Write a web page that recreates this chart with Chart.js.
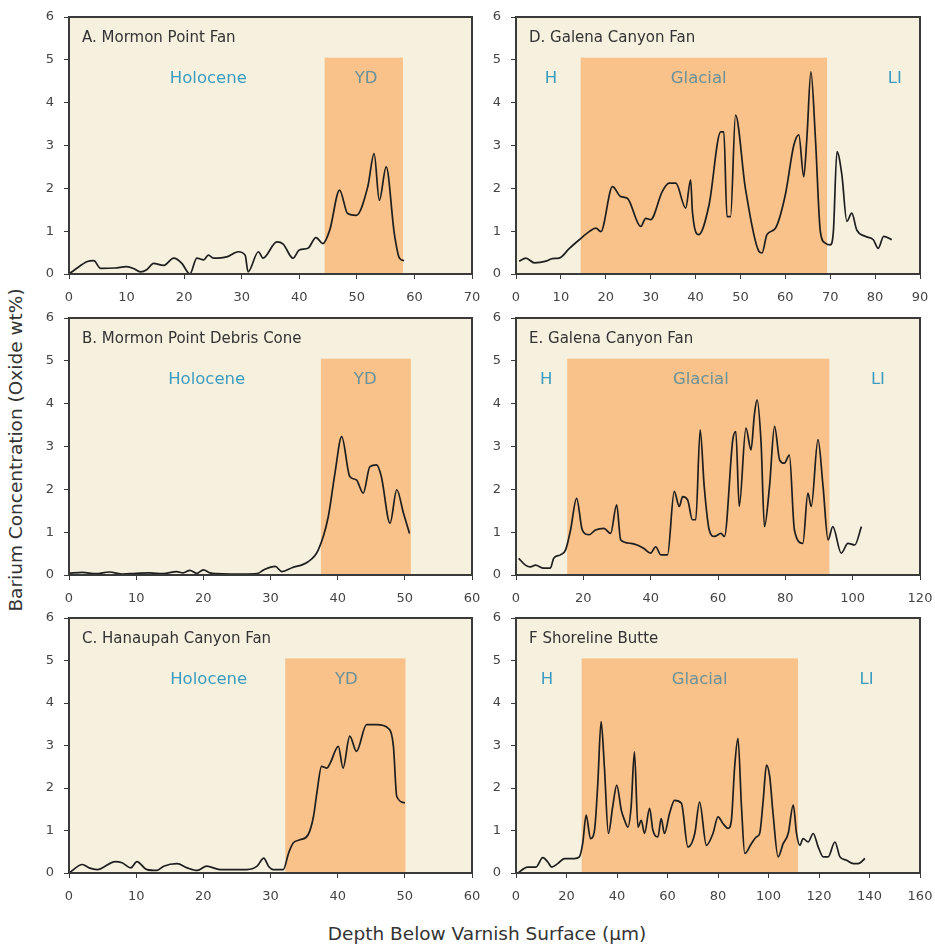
<!DOCTYPE html>
<html>
<head>
<meta charset="utf-8">
<script src="https://cdn.jsdelivr.net/npm/chart.js@4"></script>
<style>
  body { margin: 0; background: #fff; }
  #page { position: relative; width: 935px; height: 944px; overflow: hidden; }
  .panel { position: absolute; }
  .axis-title { position: absolute; font-family: 'DejaVu Sans', sans-serif; font-size: 18.5px; color: #333; white-space: nowrap; }
  #yTitle { left: 15px; top: 450px; transform: translate(-50%, -50%) rotate(-90deg); }
  #xTitle { left: 487px; top: 933px; transform: translate(-50%, -50%); }
</style>
</head>
<body>
<div id="page">
  <div class="axis-title" id="yTitle">Barium Concentration (Oxide wt%)</div>
  <div class="axis-title" id="xTitle">Depth Below Varnish Surface (µm)</div>
</div>
<script>
'use strict';

// --- Data (depth in µm, BaO wt%) ---
const depthA = [0, 1, 3.2, 4.3, 5.5, 8, 10, 11.2, 12.4, 13.5,
  14.7, 16.4, 18.2, 19.6, 21, 22.2, 23.4, 24.2, 25.1, 27.4,
  29.4, 30.6, 31.1, 32.9, 33.7, 36.1, 37.2, 38.9, 40, 41.5,
  42.9, 44.1, 45.3, 47, 48.4, 49.9, 51.9, 53, 53.9, 55.1,
  56.5, 57.4, 58.2];
const bariumA = [0, 0.1, 0.29, 0.31, 0.13, 0.14, 0.17, 0.13, 0.05, 0.1,
  0.25, 0.2, 0.37, 0.25, 0, 0.37, 0.33, 0.44, 0.37, 0.4,
  0.52, 0.44, 0.05, 0.52, 0.37, 0.75, 0.7, 0.37, 0.56, 0.6,
  0.85, 0.71, 1.03, 1.96, 1.41, 1.37, 2.04, 2.81, 1.72, 2.5,
  0.95, 0.37, 0.31];

const depthB = [0, 2, 4, 6, 8, 10, 12, 14, 16, 17,
  18, 19, 20, 21, 22, 24, 26, 28, 29, 30.7,
  31.7, 33.2, 35.6, 37.1, 38.6, 39.6, 40.6, 41.8, 42.8, 43.8,
  44.8, 45.8, 46.5, 47.8, 48.8, 49.8, 50.7];
const bariumB = [0.04, 0.06, 0.03, 0.07, 0.02, 0.04, 0.05, 0.03, 0.08, 0.05,
  0.11, 0.04, 0.12, 0.05, 0.03, 0.02, 0.02, 0.03, 0.12, 0.2,
  0.08, 0.17, 0.31, 0.58, 1.36, 2.38, 3.23, 2.3, 2.22, 1.91,
  2.53, 2.57, 2.3, 1.21, 1.99, 1.44, 0.97];

const depthC = [0, 2, 3, 4.2, 6.9, 7.9, 9.2, 10.1, 11.6, 13.1,
  14.1, 16.1, 17.6, 19.1, 20.5, 22.5, 26.5, 28, 29, 29.7,
  30.4, 31.9, 32.7, 33.4, 34.4, 35.6, 36.4, 36.9, 37.6, 38.4,
  38.9, 40.1, 40.8, 41.8, 42.8, 44.3, 45.8, 47.5, 48.3, 48.8,
  50];
const bariumC = [0, 0.2, 0.12, 0.08, 0.27, 0.24, 0.12, 0.27, 0.08, 0.06,
  0.16, 0.22, 0.12, 0.06, 0.16, 0.08, 0.08, 0.16, 0.35, 0.16,
  0.08, 0.08, 0.47, 0.71, 0.78, 0.9, 1.33, 1.88, 2.51, 2.47,
  2.59, 2.98, 2.47, 3.22, 2.86, 3.49, 3.49, 3.41, 2.98, 1.8,
  1.65];

const depthD = [0.7, 2.2, 4.1, 6.7, 8.1, 9.6, 11.9, 14.1, 16.3, 17.8,
  18.9, 21.5, 23.3, 24.8, 27.8, 28.9, 30, 32.6, 34.1, 35.6,
  37.8, 38.9, 39.3, 40.7, 43, 45.6, 46.3, 47, 47.8, 48.9,
  51.1, 54.1, 54.8, 55.9, 57.8, 60, 61.9, 63, 64.1, 64.8,
  65.7, 66.7, 67.8, 68.9, 70, 70.7, 71.5, 72.6, 73.7, 74.8,
  75.9, 77.8, 79.6, 80.7, 81.9, 83.7];
const bariumD = [0.3, 0.37, 0.26, 0.3, 0.36, 0.37, 0.6, 0.8, 0.99, 1.07,
  0.99, 2.04, 1.81, 1.77, 1.11, 1.3, 1.27, 1.93, 2.12, 2.12,
  1.54, 2.2, 1.46, 0.92, 1.61, 3.32, 3.32, 1.34, 1.34, 3.71,
  2.0, 0.53, 0.49, 0.92, 1.07, 1.85, 3.01, 3.25, 2.27, 3.17,
  4.72, 3.17, 0.99, 0.72, 0.68, 0.99, 2.86, 2.31, 1.23, 1.42,
  1.03, 0.88, 0.8, 0.6, 0.88, 0.8];

const depthE = [0.8, 2.8, 4.3, 5.8, 8.2, 10.2, 11.2, 13.2, 14.7, 16.2,
  18, 19.7, 21.7, 23.6, 26.1, 28.1, 29.9, 31.1, 34.1, 36,
  38, 40, 41.5, 43, 45, 47, 48.5, 49.5, 51, 52.4,
  53.4, 54.7, 55.9, 57.4, 58.9, 60.9, 61.9, 64.4, 65.3, 66.3,
  68.3, 69.8, 70.8, 71.6, 72.8, 73.8, 75.3, 76.8, 78.3, 79.7,
  81.2, 82.7, 85.2, 86.7, 87.7, 89.7, 91.2, 92.7, 94.1, 96.6,
  98.6, 100.6, 102.6];
const bariumE = [0.39, 0.23, 0.19, 0.23, 0.16, 0.16, 0.39, 0.47, 0.58, 1.05,
  1.79, 1.05, 0.94, 1.05, 1.09, 0.97, 1.64, 0.82, 0.74, 0.7,
  0.62, 0.51, 0.66, 0.47, 0.47, 1.95, 1.6, 1.83, 1.75, 1.29,
  1.29, 3.39, 2.07, 1.05, 0.9, 0.97, 0.9, 3.16, 3.35, 1.6,
  3.43, 2.92, 3.74, 4.09, 3.08, 1.13, 2.07, 3.47, 2.69, 2.61,
  2.8, 1.05, 0.74, 1.91, 1.6, 3.16, 2.07, 0.82, 1.13, 0.51,
  0.74, 0.7, 1.13];

const depthF = [0.7, 4.6, 7.9, 10.6, 12.6, 14.1, 16.5, 19.2, 23.1, 25.1,
  26.4, 27.8, 29.5, 31.1, 32.4, 33.7, 35, 36.6, 38.3, 39.9,
  41.7, 43, 44.3, 45.6, 46.9, 48.3, 49.6, 50.9, 52.9, 54.2,
  56.2, 57.5, 58.8, 60.8, 62.8, 65.5, 68.1, 70.8, 72.7, 75.4,
  78, 80, 82, 84, 85.3, 86.6, 87.9, 89.3, 90.6, 93.2,
  95.2, 96.5, 97.9, 99.2, 100.5, 101.8, 103.8, 105.8, 107.8, 109.8,
  111.1, 112.4, 113.7, 115.7, 117.7, 119.7, 121.7, 123.6, 126.3, 128.3,
  130.9, 133.6, 135.5, 138.2];
const bariumF = [0, 0.14, 0.14, 0.36, 0.26, 0.14, 0.22, 0.34, 0.34, 0.38,
  0.69, 1.36, 0.81, 1.01, 2.11, 3.56, 2.5, 0.93, 1.56, 2.07,
  1.48, 1.24, 1.08, 1.56, 2.85, 1.08, 1.24, 0.93, 1.52, 1.01,
  0.85, 1.28, 0.93, 1.4, 1.71, 1.64, 0.61, 0.93, 1.67, 0.65,
  0.93, 1.32, 1.16, 1.05, 1.24, 2.5, 3.17, 1.56, 0.46, 0.69,
  0.85, 0.93, 1.71, 2.54, 2.26, 1.4, 0.38, 0.69, 0.93, 1.6,
  0.93, 0.65, 0.81, 0.73, 0.93, 0.61, 0.38, 0.38, 0.73, 0.38,
  0.3, 0.22, 0.22, 0.34];

// shaded intervals (depth from / to) and the period labels
const bandA = [44.4, 58];
const bandB = [37.5, 50.9];
const bandC = [32.2, 50.1];
const bandD = [14.4, 69.3];
const bandE = [15.2, 93.1];
const bandF = [26, 111.7];

const youngerLabels = ['Holocene', 'YD'];
const glacialLabels = ['H', 'Glacial', 'LI'];
const labelDepthA = [24.2, 51.6];
const labelDepthB = [20.5, 44.1];
const labelDepthC = [20.8, 41.3];
const labelDepthD = [7.8, 40.7, 84.4];
const labelDepthE = [9, 54.9, 107.5];
const labelDepthF = [12.3, 72.7, 138.8];

const yTicks = [0, 1, 2, 3, 4, 5, 6];

const panels = [
    { title: 'A. Mormon Point Fan', depth: depthA, barium: bariumA, xMax: 70, step: 10, band: bandA, names: youngerLabels, at: labelDepthA, col: 0, row: 0 },
    { title: 'B. Mormon Point Debris Cone', depth: depthB, barium: bariumB, xMax: 60, step: 10, band: bandB, names: youngerLabels, at: labelDepthB, col: 0, row: 1 },
    { title: 'C. Hanaupah Canyon Fan', depth: depthC, barium: bariumC, xMax: 60, step: 10, band: bandC, names: youngerLabels, at: labelDepthC, col: 0, row: 2 },
    { title: 'D. Galena Canyon Fan', depth: depthD, barium: bariumD, xMax: 90, step: 10, band: bandD, names: glacialLabels, at: labelDepthD, col: 1, row: 0 },
    { title: 'E. Galena Canyon Fan', depth: depthE, barium: bariumE, xMax: 120, step: 20, band: bandE, names: glacialLabels, at: labelDepthE, col: 1, row: 1 },
    { title: 'F Shoreline Butte', depth: depthF, barium: bariumF, xMax: 160, step: 20, band: bandF, names: glacialLabels, at: labelDepthF, col: 1, row: 2 }
];

// --- Layout (plot area edges on the page) ---
const PLOT_LEFT = [69, 516];
const PLOT_RIGHT = [472, 920];
const PLOT_TOP = [17, 318, 618];
const PLOT_BOTTOM = [274, 575, 873];
const AXIS_W = 50, AXIS_H = 36, PAD_TOP = 17, PAD_RIGHT = 12;

const FONT = "'DejaVu Sans', sans-serif";
const BG = '#f6f0df';
const BAND = '#f9c28b';

Chart.defaults.font.family = FONT;
Chart.defaults.color = '#444';

const panelDecor = {
    id: 'panelDecor',
    beforeDraw(chart, args, opts) {
        const { ctx, chartArea: a, scales } = chart;
        ctx.save();
        ctx.fillStyle = BG;
        ctx.fillRect(a.left, a.top, a.right - a.left, a.bottom - a.top);
        const x0 = scales.x.getPixelForValue(opts.band[0]);
        const x1 = scales.x.getPixelForValue(opts.band[1]);
        const yTop = scales.y.getPixelForValue(5.05);
        ctx.fillStyle = BAND;
        ctx.fillRect(x0, yTop, x1 - x0, a.bottom - yTop);
        ctx.restore();
    },
    beforeDatasetsDraw(chart, args, opts) {
        const { ctx, chartArea: a, scales } = chart;
        ctx.save();
        ctx.textBaseline = 'middle';
        ctx.textAlign = 'left';
        ctx.fillStyle = '#333';
        ctx.font = '15px ' + FONT;
        ctx.fillText(opts.title, a.left + 13, a.top + 21);

        ctx.textAlign = 'center';
        ctx.font = '16.5px ' + FONT;
        const y = scales.y.getPixelForValue(4.55);
        opts.names.forEach((name, i) => {
            const d = opts.at[i];
            const inBand = d > opts.band[0] && d < opts.band[1];
            ctx.fillStyle = inBand ? '#6b9198' : '#3c9cc0';
            ctx.fillText(name, scales.x.getPixelForValue(d), y);
        });
        ctx.restore();
    },
    afterDraw(chart) {
        const { ctx, chartArea: a } = chart;
        ctx.save();
        ctx.strokeStyle = '#3a3a3a';
        ctx.lineWidth = 2;
        ctx.strokeRect(a.left, a.top, a.right - a.left, a.bottom - a.top);
        ctx.restore();
    }
};

const page = document.getElementById('page');

panels.forEach(p => {
    const left = PLOT_LEFT[p.col] - AXIS_W;
    const top = PLOT_TOP[p.row] - PAD_TOP;
    const width = PLOT_RIGHT[p.col] - left + PAD_RIGHT;
    const height = PLOT_BOTTOM[p.row] - top + AXIS_H;

    const holder = document.createElement('div');
    holder.className = 'panel';
    holder.style.left = left + 'px';
    holder.style.top = top + 'px';
    holder.style.width = width + 'px';
    holder.style.height = height + 'px';
    const canvas = document.createElement('canvas');
    holder.appendChild(canvas);
    page.appendChild(holder);

    const points = p.depth.map((d, i) => ({ x: d, y: p.barium[i] }));

    new Chart(canvas.getContext('2d'), {
        type: 'line',
        data: {
            datasets: [{
                data: points,
                borderColor: '#1e1e1e',
                borderWidth: 1.7,
                pointRadius: 0,
                cubicInterpolationMode: 'monotone',
                fill: false
            }]
        },
        options: {
            responsive: true,
            maintainAspectRatio: false,
            animation: false,
            layout: { autoPadding: false, padding: { top: PAD_TOP, right: PAD_RIGHT, left: 0, bottom: 0 } },
            plugins: {
                legend: { display: false },
                tooltip: { enabled: false },
                panelDecor: { title: p.title, band: p.band, names: p.names, at: p.at }
            },
            scales: {
                x: {
                    type: 'linear',
                    min: 0,
                    max: p.xMax,
                    border: { display: false },
                    grid: { drawOnChartArea: false, drawTicks: true, tickLength: 5, color: '#3a3a3a' },
                    ticks: { stepSize: p.step, padding: 11, maxRotation: 0, autoSkip: false, font: { size: 13 } },
                    afterFit: s => { s.height = AXIS_H; s.paddingLeft = 0; s.paddingRight = 0; }
                },
                y: {
                    min: 0,
                    max: 6,
                    border: { display: false },
                    grid: { drawOnChartArea: false, drawTicks: true, tickLength: 5, color: '#3a3a3a' },
                    afterBuildTicks: s => { s.ticks = yTicks.map(v => ({ value: v })); },
                    ticks: { padding: 10, font: { size: 13 } },
                    afterFit: s => { s.width = AXIS_W; s.paddingTop = 0; s.paddingBottom = 0; }
                }
            }
        },
        plugins: [panelDecor]
    });
});
</script>
</body>
</html>
